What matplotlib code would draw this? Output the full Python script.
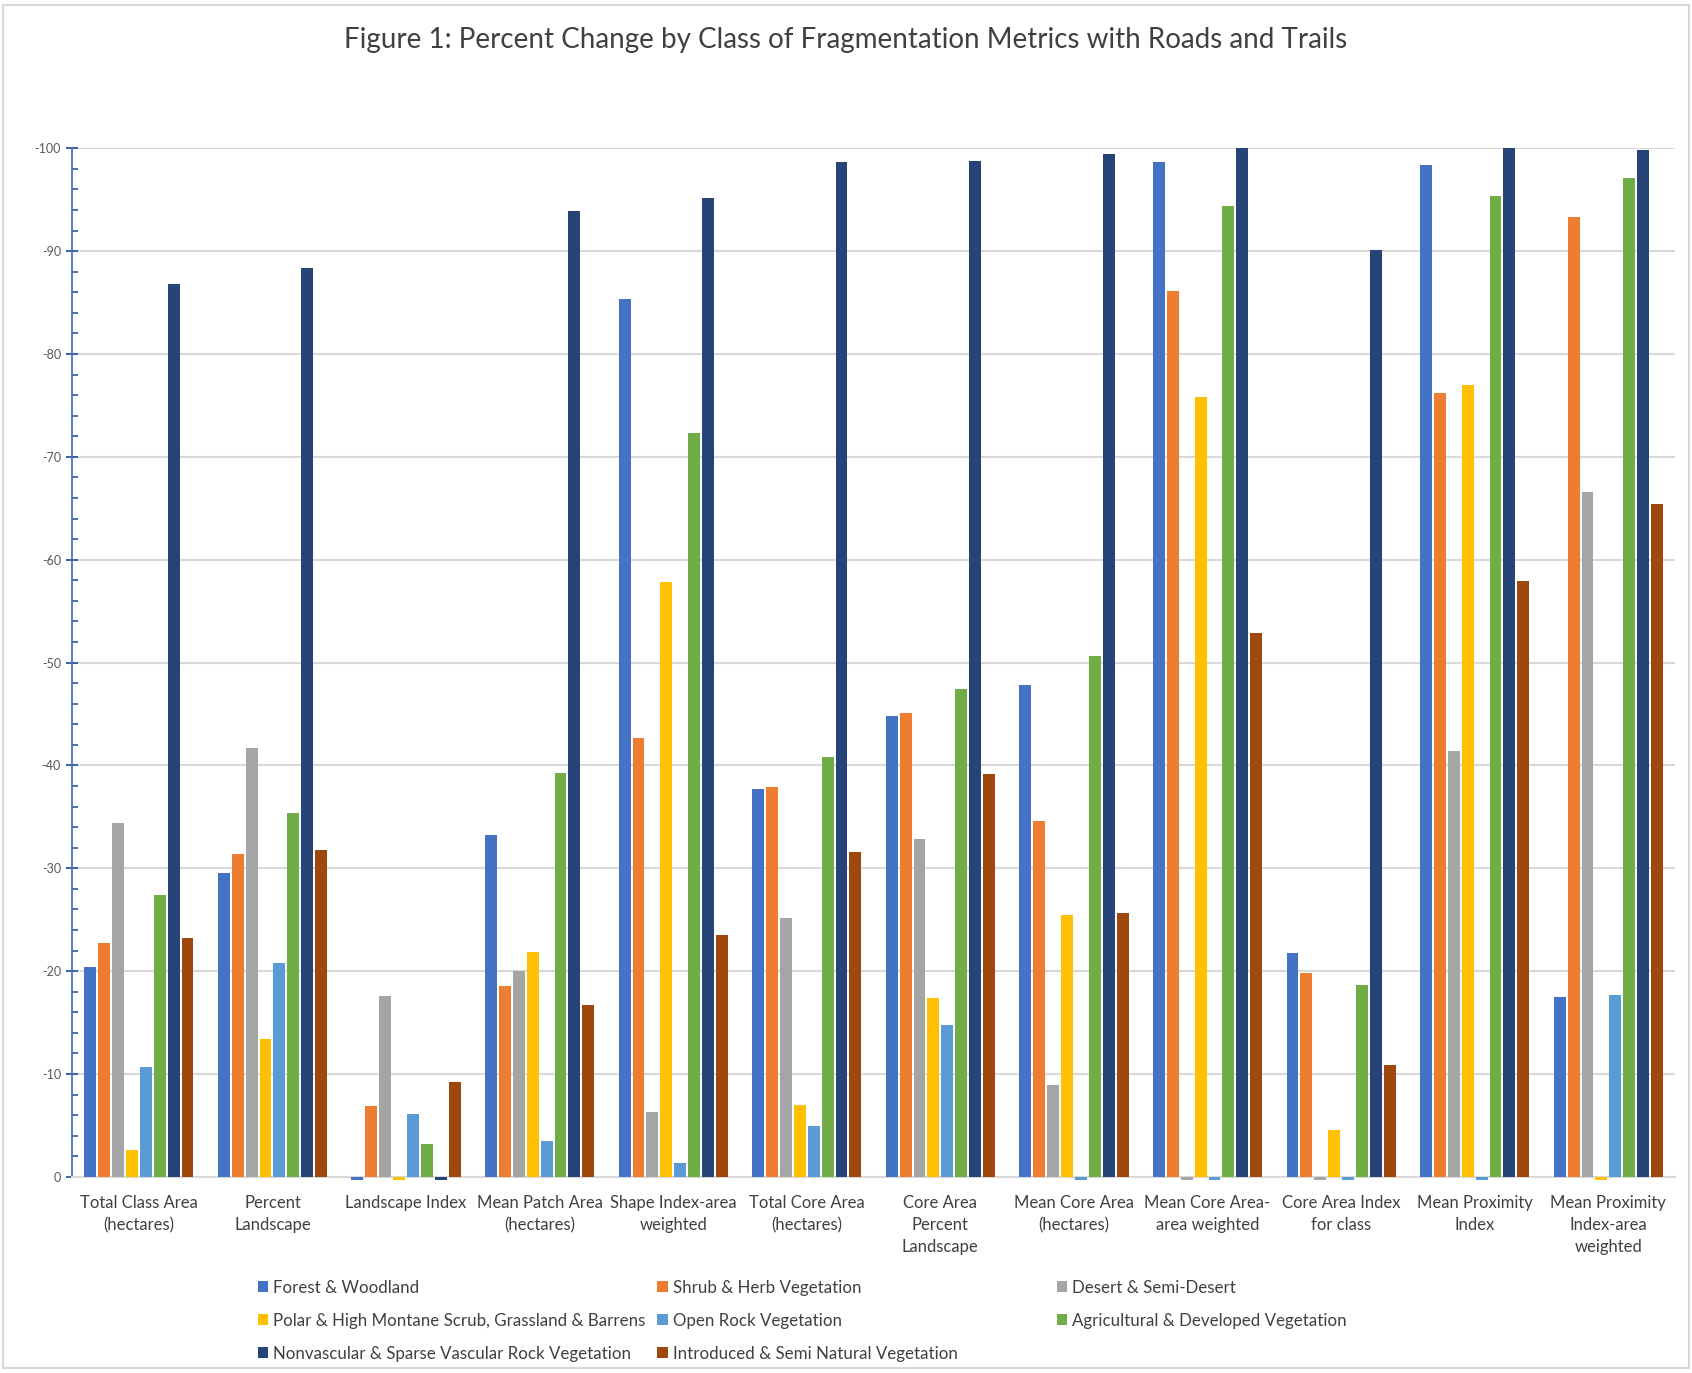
import numpy as np
import matplotlib
matplotlib.use("Agg")
import matplotlib.pyplot as plt
from matplotlib.patches import Rectangle

plt.rcParams['font.family'] = ['Lato', 'DejaVu Sans']
plt.rcParams['axes.unicode_minus'] = False

# metrics on the x axis
metrics = [
    "Total Class Area\n(hectares)",
    "Percent\nLandscape",
    "Landscape Index",
    "Mean Patch Area\n(hectares)",
    "Shape Index-area\nweighted",
    "Total Core Area\n(hectares)",
    "Core Area\nPercent\nLandscape",
    "Mean Core Area\n(hectares)",
    "Mean Core Area-\narea weighted",
    "Core Area Index\nfor class",
    "Mean Proximity\nIndex",
    "Mean Proximity\nIndex-area\nweighted",
]

# percent change per vegetation class (one value per metric)
forest = [-20.4, -29.5, 0.3, -33.2, -85.3, -37.7, -44.8, -47.8, -98.7, -21.8, -98.4, -17.5]
shrub = [-22.7, -31.4, -6.9, -18.6, -42.7, -37.9, -45.1, -34.6, -86.1, -19.8, -76.2, -93.3]
desert = [-34.4, -41.7, -17.6, -20.0, -6.3, -25.2, -32.9, -8.9, 0.3, 0.3, -41.4, -66.6]
polar = [-2.6, -13.4, 0.3, -21.9, -57.8, -7.0, -17.4, -25.5, -75.8, -4.6, -77.0, 0.3]
open_rock = [-10.7, -20.8, -6.1, -3.5, -1.4, -5.0, -14.8, 0.3, 0.3, 0.3, 0.3, -17.7]
agricultural = [-27.4, -35.4, -3.2, -39.3, -72.3, -40.8, -47.4, -50.6, -94.4, -18.7, -95.4, -97.1]
nonvascular = [-86.8, -88.4, 0.3, -93.9, -95.2, -98.7, -98.8, -99.4, -100.0, -90.1, -100.0, -99.8]
introduced = [-23.2, -31.8, -9.2, -16.7, -23.5, -31.6, -39.2, -25.7, -52.9, -10.9, -57.9, -65.4]

series_names = [
    "Forest & Woodland",
    "Shrub & Herb Vegetation",
    "Desert & Semi-Desert",
    "Polar & High Montane Scrub, Grassland & Barrens",
    "Open Rock Vegetation",
    "Agricultural & Developed Vegetation",
    "Nonvascular & Sparse Vascular Rock Vegetation",
    "Introduced & Semi Natural Vegetation",
]
series = [forest, shrub, desert, polar, open_rock, agricultural, nonvascular, introduced]
colors = ["#4472C4", "#ED7D31", "#A5A5A5", "#FFC000",
          "#5B9BD5", "#70AD47", "#264478", "#9E480E"]

fig = plt.figure(figsize=(16.92, 13.73), dpi=100)
ax = fig.add_axes([0.0426, 0.1428, 0.9474, 0.7492])

x = np.arange(len(metrics))
pitch = 0.104
width = 0.089
handles = []
for i, (vals, name, col) in enumerate(zip(series, series_names, colors)):
    offs = (i - 3.5) * pitch
    b = ax.bar(x + offs, vals, width, color=col, linewidth=0, label=name,
               clip_on=False, zorder=3)
    handles.append(b)

ax.set_xlim(-0.5, len(metrics) - 0.5)
ax.set_ylim(0, -100)
ax.set_yticks(np.arange(0, -101, -10))
ax.set_yticks(np.arange(0, -101, -2), minor=True)
ax.set_yticklabels([str(int(v)) for v in np.arange(0, -101, -10)])
ax.grid(axis='y', color='#D9D9D9', linewidth=1.5, zorder=0)
ax.set_axisbelow(True)

for s in ['top', 'right']:
    ax.spines[s].set_visible(False)
ax.spines['left'].set_color('#4472C4')
ax.spines['left'].set_linewidth(1.3)
ax.spines['bottom'].set_color('#D9D9D9')
ax.spines['bottom'].set_linewidth(1.5)

ax.tick_params(axis='y', which='major', direction='inout', length=8, width=1.3,
               color='#2F5597', labelsize=9, labelcolor='#595959', pad=4)
ax.tick_params(axis='y', which='minor', direction='in', length=4, width=1.2,
               color='#2F5597')
ax.set_xticks(x)
ax.set_xticklabels(metrics, fontsize=12, color='#404040', linespacing=1.45)
ax.tick_params(axis='x', length=0, pad=13)

fig.text(0.5, 0.971, "Figure 1: Percent Change by Class of Fragmentation Metrics with Roads and Trails",
         ha='center', va='center', fontsize=20, color='#404040')

# legend laid out row by row in three fixed columns
col_x = [0.1525, 0.3885, 0.6245]
cols = [[0, 3, 6], [1, 4, 7], [2, 5]]
for cx, idx in zip(col_x, cols):
    fig.legend([handles[k] for k in idx], [series_names[k] for k in idx],
               loc='upper left', bbox_to_anchor=(cx, 0.068), frameon=False,
               fontsize=12.2, labelcolor='#404040', handlelength=0.6,
               handleheight=0.6, handletextpad=0.3, labelspacing=1.0,
               borderpad=0, borderaxespad=0)

# light frame around the chart area
fig.add_artist(Rectangle((0.002, 0.004), 0.996, 0.992, transform=fig.transFigure,
                         fill=False, edgecolor='#D9D9D9', linewidth=1.5))

fig.savefig("out.png", dpi=100)
